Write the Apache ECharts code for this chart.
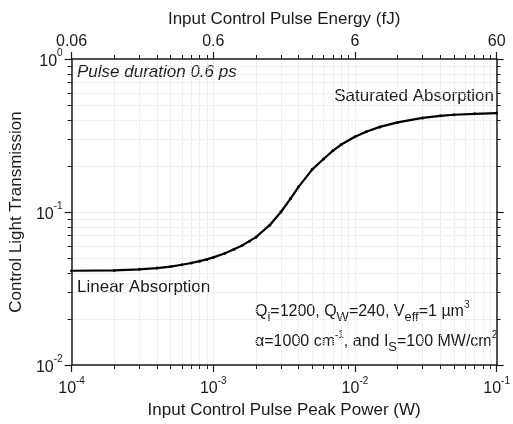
<!DOCTYPE html>
<html>
<head>
<meta charset="utf-8">
<script src="https://cdn.jsdelivr.net/npm/echarts@6/dist/echarts.min.js"></script>
<style>
html, body { margin: 0; padding: 0; background: #fff; }
#main { width: 513px; height: 424px; }
</style>
</head>
<body>
<div id="main"></div>
<script>
var chartDom = document.getElementById('main');
var myChart = echarts.init(chartDom, null);
var option;

// peak power (W) and transmission
var power = [1e-4, 2e-4, 3e-4, 4e-4, 5e-4, 6e-4, 7e-4, 8e-4, 9e-4, 1e-3,
  1.2e-3, 1.4e-3, 1.6e-3, 1.8e-3, 2e-3, 2.5e-3, 3e-3, 3.5e-3, 4e-3, 5e-3,
  6e-3, 7e-3, 8e-3, 1e-2, 1.2e-2, 1.5e-2, 2e-2, 3e-2, 4e-2, 5e-2, 7e-2, 1e-1];
var transmission = [0.0413, 0.0415, 0.0422, 0.0430, 0.0440, 0.0452, 0.0464, 0.0477, 0.0490, 0.0505,
  0.0535, 0.0570, 0.0605, 0.0645, 0.0685, 0.0820, 0.100, 0.122, 0.146, 0.190,
  0.222, 0.252, 0.276, 0.310, 0.335, 0.360, 0.385, 0.412, 0.425, 0.432, 0.438, 0.443];

var xRange = [1e-4, 1e-1];
var yRange = [1e-2, 1];
var pulseDuration = 0.6e-12; // s, top axis = power * duration in fJ

var xMinor = [], yMinor = [];
for (var d = -4; d < -1; d++) for (var k = 2; k <= 9; k++) xMinor.push(k * Math.pow(10, d));
for (var d = -2; d < 0; d++) for (var k = 2; k <= 9; k++) yMinor.push(k * Math.pow(10, d));

var font = 'Liberation Sans';
var ink = '#1a1a1a';
var gridLine = { show: true, lineStyle: { color: '#e2e2e2', type: 'dotted', width: 1 } };

var supRich = {
  b: { fontSize: 16, fontFamily: font, color: ink, lineHeight: 21, verticalAlign: 'bottom' },
  s: { fontSize: 10, fontFamily: font, color: ink, lineHeight: 21, verticalAlign: 'top' }
};
function powLabel(v) {
  return '{b|10}{s|' + Math.round(Math.log10(v)) + '}';
}

function majorAxis(pos, range, extra) {
  var a = {
    type: 'log', position: pos, min: range[0], max: range[1],
    axisLine: { show: true, onZero: false, lineStyle: { color: ink, width: 1.5 } },
    axisTick: { show: true, length: 7, lineStyle: { color: ink, width: 1.2 } },
    axisLabel: { show: false },
    splitLine: { show: false }
  };
  return Object.assign(a, extra || {});
}
function minorAxis(pos, range, values, grid) {
  return {
    type: 'log', position: pos, min: range[0], max: range[1],
    axisLine: { show: false, onZero: false },
    axisTick: { show: true, length: 4, customValues: values, lineStyle: { color: ink, width: 1 } },
    axisLabel: { show: false },
    splitLine: grid ? gridLine : { show: false }
  };
}

var titleStyle = { fontSize: 17, color: ink, fontFamily: font };
var noteRich = {
  t: { fontSize: 16, fontFamily: font, fill: ink, lineHeight: 24, verticalAlign: 'middle' },
  d: { fontSize: 13, fontFamily: font, fill: ink, lineHeight: 24, verticalAlign: 'bottom' },
  u: { fontSize: 10, fontFamily: font, fill: ink, lineHeight: 24, verticalAlign: 'top' }
};

option = {
  animation: false,
  textStyle: { fontFamily: font },
  grid: { left: 68, right: 11, top: 59, bottom: 59, containLabel: false },
  xAxis: [
    majorAxis('bottom', xRange, {
      name: 'Input Control Pulse Peak Power (W)', nameLocation: 'middle', nameGap: 35,
      nameTextStyle: titleStyle,
      axisLabel: { show: true, margin: 11, formatter: powLabel, rich: supRich, showMinLabel: true, showMaxLabel: true },
      splitLine: gridLine
    }),
    minorAxis('bottom', xRange, xMinor, true),
    majorAxis('top', xRange, {
      name: 'Input Control Pulse Energy (fJ)', nameLocation: 'middle', nameGap: 31,
      nameTextStyle: titleStyle,
      axisLabel: { show: true, margin: 9, fontSize: 16, color: ink, fontFamily: font,
        showMinLabel: true, showMaxLabel: true,
        formatter: function (v) { return String(Number((v * pulseDuration * 1e15).toPrecision(2))); } }
    }),
    minorAxis('top', xRange, xMinor, false)
  ],
  yAxis: [
    majorAxis('left', yRange, {
      name: 'Control Light Transmission', nameLocation: 'middle', nameGap: 44,
      nameTextStyle: titleStyle,
      axisLabel: { show: true, margin: 9, formatter: powLabel, rich: supRich, showMinLabel: true, showMaxLabel: true },
      splitLine: gridLine
    }),
    minorAxis('left', yRange, yMinor, true),
    majorAxis('right', yRange),
    minorAxis('right', yRange, yMinor, false)
  ],
  series: [{
    type: 'line',
    xAxisIndex: 0, yAxisIndex: 0,
    data: power.map(function (p, i) { return [p, transmission[i]]; }),
    symbol: 'circle', symbolSize: 3,
    itemStyle: { color: '#000' },
    lineStyle: { color: '#000', width: 2.2 },
    z: 5
  }],
  graphic: [
    { type: 'text', left: 77, top: 64, style: { text: 'Pulse duration 0.6 ps', font: 'italic 17px "Liberation Sans"', fill: ink } },
    { type: 'text', right: 19, top: 88, style: { text: 'Saturated Absorption', font: '17px "Liberation Sans"', fill: ink } },
    { type: 'text', left: 77, top: 279, style: { text: 'Linear Absorption', font: '17px "Liberation Sans"', fill: ink } },
    { type: 'text', left: 255, top: 300, style: {
      text: '{t|Q}{d|i}{t|=1200, Q}{d|W}{t|=240, V}{d|eff}{t|=1 \u00b5m}{u|3}', rich: noteRich } },
    { type: 'text', left: 255, top: 330, style: {
      text: '{t|\u03b1=1000 cm}{u|-1}{t|, and I}{d|S}{t|=100 MW/cm}{u|2}', rich: noteRich } }
  ]
};

myChart.setOption(option);
</script>
</body>
</html>
